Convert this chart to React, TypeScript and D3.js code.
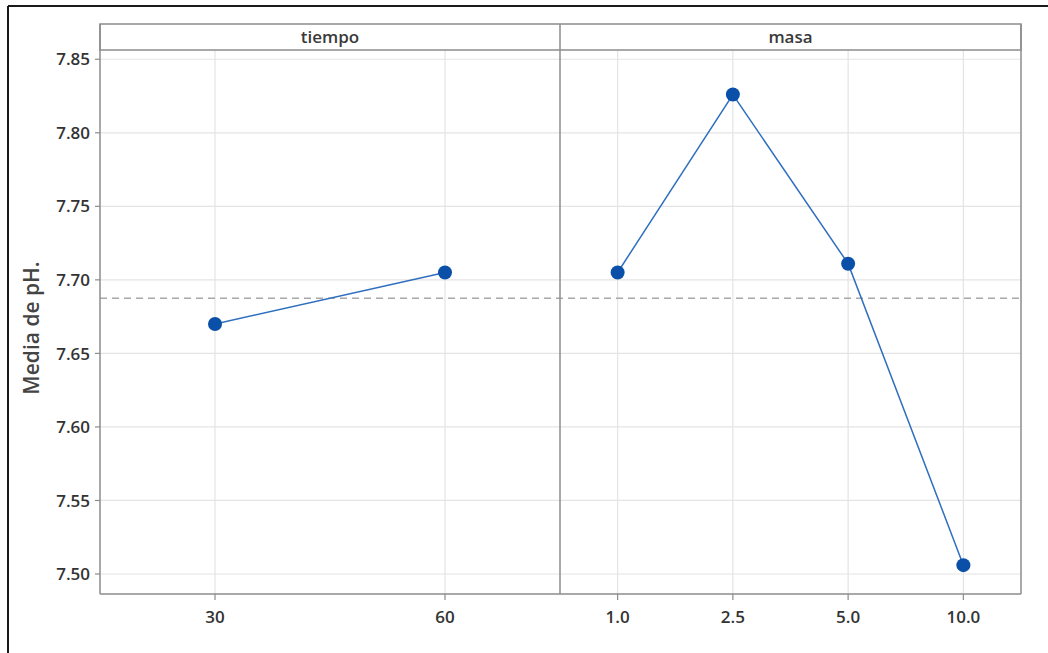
import * as d3 from "d3";

const tiempoLevels = ["30", "60"];
const tiempoMeans = [7.67, 7.705];
const masaLevels = ["1.0", "2.5", "5.0", "10.0"];
const masaMeans = [7.705, 7.826, 7.711, 7.506];
const yTicks = [7.5, 7.55, 7.6, 7.65, 7.7, 7.75, 7.8, 7.85];
const grandMean = 7.6875;

const W = 1048;
const H = 653;
const plotLeft = 100;
const plotRight = 1021;
const divider = 560;
const stripTop = 24;
const plotTop = 50;
const plotBottom = 594;

const font = "'Open Sans', 'Noto Sans', sans-serif";

export default function App() {
  const y = d3.scaleLinear().domain([7.4864, 7.8563]).range([plotBottom, plotTop]);
  const xT = d3.scalePoint<string>().domain(tiempoLevels).range([plotLeft, divider]).padding(0.5);
  const xM = d3.scalePoint<string>().domain(masaLevels).range([divider, plotRight]).padding(0.5);

  const line = d3
    .line<[number, number]>()
    .x((d) => d[0])
    .y((d) => d[1]);

  const tPts: [number, number][] = tiempoLevels.map((l, i) => [xT(l)!, y(tiempoMeans[i])]);
  const mPts: [number, number][] = masaLevels.map((l, i) => [xM(l)!, y(masaMeans[i])]);
  const xTicks = [
    ...tiempoLevels.map((l) => ({ label: l, x: xT(l)! })),
    ...masaLevels.map((l) => ({ label: l, x: xM(l)! })),
  ];

  return (
    <svg
      width={W}
      height={H}
      style={{ position: "absolute", left: 0, top: 0, background: "#fff" }}
      fontFamily={font}
    >
      {/* outer frame (cropped) */}
      <line x1={8} x2={W} y1={6} y2={6} stroke="#1a1a1a" strokeWidth={2} />
      <line x1={8} x2={8} y1={6} y2={H} stroke="#1a1a1a" strokeWidth={2} />

      {/* grid */}
      {yTicks.map((t) => (
        <line key={t} x1={plotLeft} x2={plotRight} y1={y(t)} y2={y(t)} stroke="#e4e4e4" strokeWidth={1.2} />
      ))}
      {xTicks.map((t) => (
        <line key={t.label} x1={t.x} x2={t.x} y1={plotTop} y2={plotBottom} stroke="#e4e4e4" strokeWidth={1.2} />
      ))}

      {/* reference line */}
      <line
        x1={plotLeft}
        x2={plotRight}
        y1={y(grandMean)}
        y2={y(grandMean)}
        stroke="#a8a8a8"
        strokeWidth={1.5}
        strokeDasharray="7,5"
      />

      {/* strip */}
      <rect x={plotLeft} y={stripTop} width={plotRight - plotLeft} height={plotTop - stripTop} fill="#fff" stroke="#8c8c8c" strokeWidth={1.5} />
      <text x={(plotLeft + divider) / 2} y={43} textAnchor="middle" fontSize={17} fontWeight={600} fill="#3a3a3a">
        tiempo
      </text>
      <text x={(divider + plotRight) / 2} y={43} textAnchor="middle" fontSize={17} fontWeight={600} fill="#3a3a3a">
        masa
      </text>

      {/* panel borders */}
      <line x1={plotLeft} x2={plotLeft} y1={stripTop} y2={plotBottom} stroke="#8c8c8c" strokeWidth={1.5} />
      <line x1={divider} x2={divider} y1={stripTop} y2={plotBottom} stroke="#8c8c8c" strokeWidth={1.5} />
      <line x1={plotRight} x2={plotRight} y1={stripTop} y2={plotBottom} stroke="#8c8c8c" strokeWidth={1.5} />
      <line x1={plotLeft} x2={plotRight} y1={plotBottom} y2={plotBottom} stroke="#8c8c8c" strokeWidth={1.5} />

      {/* y axis */}
      {yTicks.map((t) => (
        <g key={t}>
          <line x1={plotLeft - 5} x2={plotLeft} y1={y(t)} y2={y(t)} stroke="#8c8c8c" strokeWidth={1.2} />
          <text x={plotLeft - 10} y={y(t)} dy="0.36em" textAnchor="end" fontSize={17} fontWeight={600} fill="#333">
            {t.toFixed(2)}
          </text>
        </g>
      ))}
      <text
        transform={`translate(39,${(plotTop + plotBottom) / 2 + 6}) rotate(-90)`}
        textAnchor="middle"
        fontSize={21}
        fontWeight={600}
        fill="#444"
      >
        Media de pH.
      </text>

      {/* x axis */}
      {xTicks.map((t) => (
        <g key={t.label}>
          <line x1={t.x} x2={t.x} y1={plotBottom} y2={plotBottom + 6} stroke="#8c8c8c" strokeWidth={1.2} />
          <text x={t.x} y={plotBottom + 29} textAnchor="middle" fontSize={17} fontWeight={600} fill="#333">
            {t.label}
          </text>
        </g>
      ))}

      {/* series */}
      <path d={line(tPts)!} fill="none" stroke="#2f6fbf" strokeWidth={1.5} />
      <path d={line(mPts)!} fill="none" stroke="#2f6fbf" strokeWidth={1.5} />
      {[...tPts, ...mPts].map((p, i) => (
        <circle key={i} cx={p[0]} cy={p[1]} r={7} fill="#0a4fa8" />
      ))}
    </svg>
  );
}
